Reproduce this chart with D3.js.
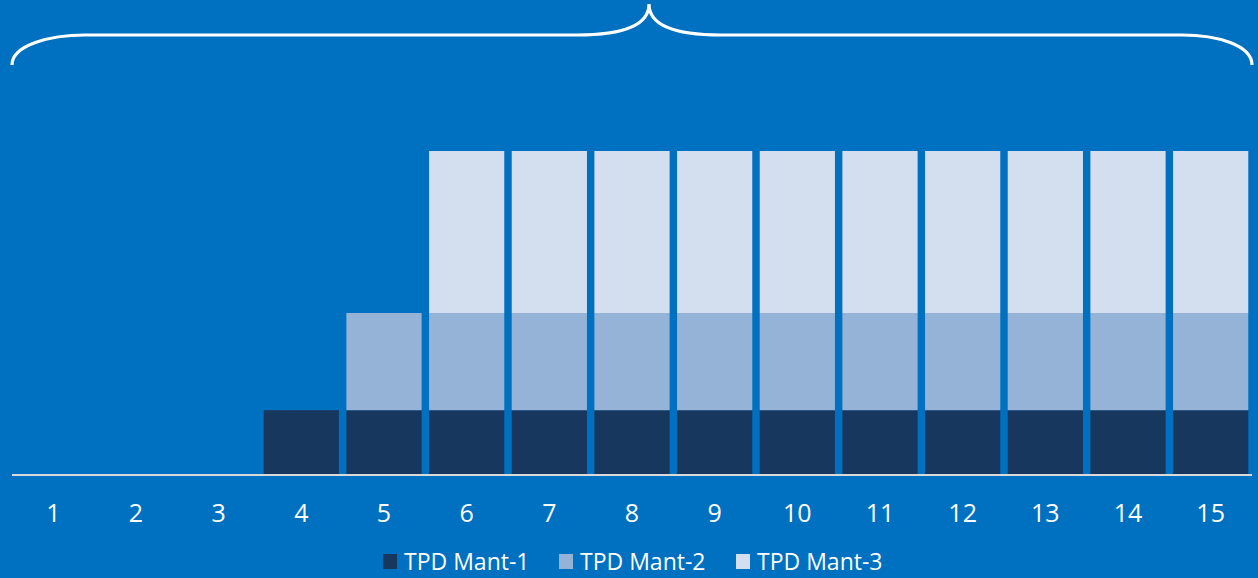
<!DOCTYPE html>
<html>
<head>
<meta charset="utf-8">
<script src="https://cdn.jsdelivr.net/npm/d3@7"></script>
<style>
  html, body { margin: 0; padding: 0; background: #0070C0; }
  svg { display: block; }
  text { font-family: "Open Sans", "Noto Sans", sans-serif; fill: #ffffff; }
</style>
</head>
<body>
<svg id="chart" width="1258" height="578"></svg>
<script>
// Periods along the horizontal axis
const categories = ["1","2","3","4","5","6","7","8","9","10","11","12","13","14","15"];

// Stacked series values per period
const mant1 = [0,0,0,2,2,2,2,2,2,2,2,2,2,2,2];
const mant2 = [0,0,0,0,3,3,3,3,3,3,3,3,3,3,3];
const mant3 = [0,0,0,0,0,5,5,5,5,5,5,5,5,5,5];

const seriesNames = ["TPD Mant-1", "TPD Mant-2", "TPD Mant-3"];
const seriesColors = ["#17375E", "#95B3D7", "#D3DFEE"];

const svg = d3.select("#chart");
const W = 1258, H = 578;
const left = 12, right = 1252, baseY = 475, topY = 151;

const rows = categories.map((c, i) => ({
  cat: c,
  "TPD Mant-1": mant1[i],
  "TPD Mant-2": mant2[i],
  "TPD Mant-3": mant3[i]
}));

const x = d3.scaleBand().domain(categories).range([left, right]).paddingInner(0.09).paddingOuter(0.045);
const y = d3.scaleLinear().domain([0, 10]).range([baseY, topY]);
const color = d3.scaleOrdinal().domain(seriesNames).range(seriesColors);

const stacked = d3.stack().keys(seriesNames)(rows);

// Bars
svg.append("g").selectAll("g")
  .data(stacked)
  .join("g")
  .attr("fill", d => color(d.key))
  .selectAll("rect")
  .data(d => d.filter(p => p[1] - p[0] > 0))
  .join("rect")
  .attr("x", d => x(d.data.cat))
  .attr("width", x.bandwidth())
  .attr("y", d => y(d[1]))
  .attr("height", d => y(d[0]) - y(d[1]));

// Category axis
const axis = svg.append("g")
  .attr("transform", `translate(0,${baseY})`)
  .call(d3.axisBottom(x).tickSize(0).tickPadding(29));
axis.select(".domain").attr("stroke", "#D9D9D9").attr("stroke-width", 2)
  .attr("d", `M${left},0H${right}`);
axis.selectAll("text")
  .attr("fill", "#ffffff")
  .attr("font-size", 25)
  .attr("font-family", "'Open Sans', sans-serif");

// Curly brace spanning all periods
const mid = 649;
const braceY = 35, tipY = 4, endY = 65;
const p = d3.path();
p.moveTo(left, endY);
p.bezierCurveTo(left, 45, left + 38, braceY, left + 73, braceY);
p.lineTo(mid - 72, braceY);
p.bezierCurveTo(mid - 28, braceY, mid, 26, mid, tipY);
p.bezierCurveTo(mid, 26, mid + 28, braceY, mid + 72, braceY);
p.lineTo(right - 70, braceY);
p.bezierCurveTo(right - 35, braceY, right, 45, right, endY);
svg.append("path")
  .attr("d", p.toString())
  .attr("fill", "none")
  .attr("stroke", "#ffffff")
  .attr("stroke-width", 3.2);

// Legend
const legendX = [383, 559, 736];
const legend = svg.append("g");
seriesNames.forEach((name, i) => {
  const g = legend.append("g").attr("transform", `translate(${legendX[i]},554)`);
  g.append("rect").attr("width", 14).attr("height", 15).attr("fill", seriesColors[i]);
  g.append("text")
    .attr("x", 21)
    .attr("y", 16)
    .attr("font-size", 23)
    .text(name);
});
</script>
</body>
</html>
